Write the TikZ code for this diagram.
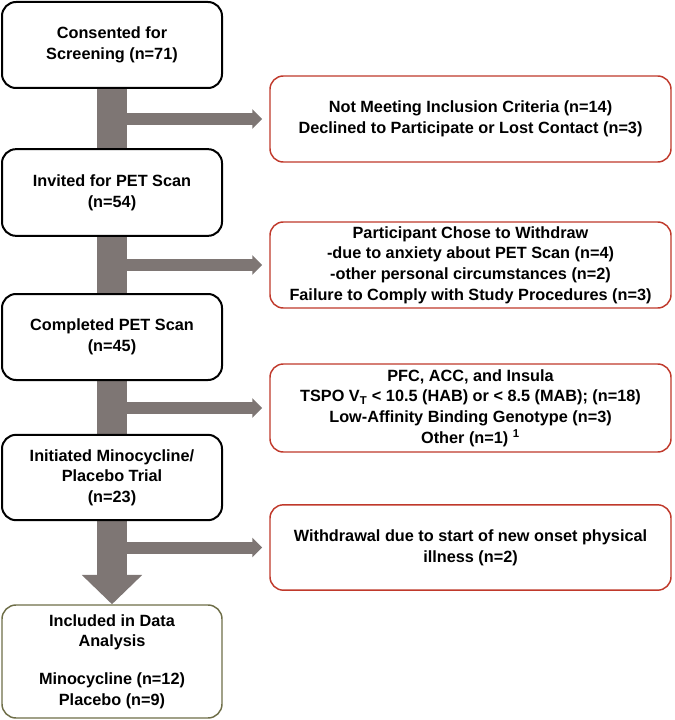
\documentclass[tikz,border=0pt]{standalone}
\usepackage{fontspec}
\setmainfont{Liberation Sans}
\usetikzlibrary{arrows.meta,backgrounds}

\definecolor{trunkgray}{RGB}{126,118,116}
\definecolor{exclred}{RGB}{192,57,43}
\definecolor{olivegreen}{RGB}{110,110,72}

\tikzset{every picture/.style={line width=0.75pt}}
\tikzset{
  stagebox/.style={draw=black, line width=1.5pt, rounded corners=10.5pt, fill=white,
    minimum width=165pt, align=center, inner sep=0.75pt,
    font=\fontsize{12.2}{15.5}\selectfont\bfseries},
  exclbox/.style={stagebox, draw=exclred, line width=1.1pt, rounded corners=10pt,
    minimum width=300.75pt},
  trunk/.style={draw=trunkgray, line width=22.5pt, -{Triangle[width=44pt,length=22pt]}},
  branch/.style={draw=trunkgray, line width=9pt, -{Triangle[width=14.5pt,length=7.5pt]},
    shorten >=5.25pt},
}

\begin{document}
\begin{tikzpicture}[x=0.75pt,y=0.75pt,yscale=-1,xscale=1]
\useasboundingbox (0,0) rectangle (674,720);

%Rounded Rect [id:consent]
\node (consent) at (112,45) [stagebox, minimum height=64.5pt] {Consented for\\Screening (n=71)};
%Rounded Rect [id:invited]
\node (invited) at (112,192.5) [stagebox, minimum height=65pt] {Invited for PET Scan\\(n=54)};
%Rounded Rect [id:completed]
\node (completed) at (112,337) [stagebox, minimum height=64.5pt] {Completed PET Scan\\(n=45)};
%Rounded Rect [id:initiated]
\node (initiated) at (112,477.5) [stagebox, minimum height=64pt] {Initiated Minocycline/\\Placebo Trial\\(n=23)};
%Rounded Rect [id:included]
\node (included) at (112,661.5) [stagebox, draw=olivegreen, line width=1.1pt, minimum height=84.75pt]
  {Included in Data\\Analysis\\[13pt]Minocycline (n=12)\\Placebo (n=9)};

% Text Node
\node (excl1) at (470.5,119) [exclbox, minimum height=64.5pt]
  {Not Meeting Inclusion Criteria (n=14)\\Declined to Participate or Lost Contact (n=3)};
% Text Node
\node (excl2) at (470.5,265) [exclbox, minimum height=64.5pt]
  {Participant Chose to Withdraw\\-due to anxiety about PET Scan (n=4)\\-other personal circumstances (n=2)\\Failure to Comply with Study Procedures (n=3)};
% Text Node
\node (excl3) at (470.5,408) [exclbox, minimum height=66pt]
  {PFC, ACC, and Insula\\TSPO V\textsubscript{T} < 10.5 (HAB) or < 8.5 (MAB); (n=18)\\Low-Affinity Binding Genotype (n=3)\\Other (n=1) \textsuperscript{1}};
% Text Node
\node (excl4) at (470.5,547.5) [exclbox, minimum height=64pt]
  {Withdrawal due to start of new onset physical\\illness (n=2)};

\begin{scope}[on background layer]
%Shape: Block Arrow
\draw [trunk] (consent.south) -- (included.north);
\draw [branch] (excl1.west -| consent.south) -- (excl1.west);
\draw [branch] (excl2.west -| consent.south) -- (excl2.west);
\draw [branch] (excl3.west -| consent.south) -- (excl3.west);
\draw [branch] (excl4.west -| consent.south) -- (excl4.west);
\end{scope}

\end{tikzpicture}
\end{document}
